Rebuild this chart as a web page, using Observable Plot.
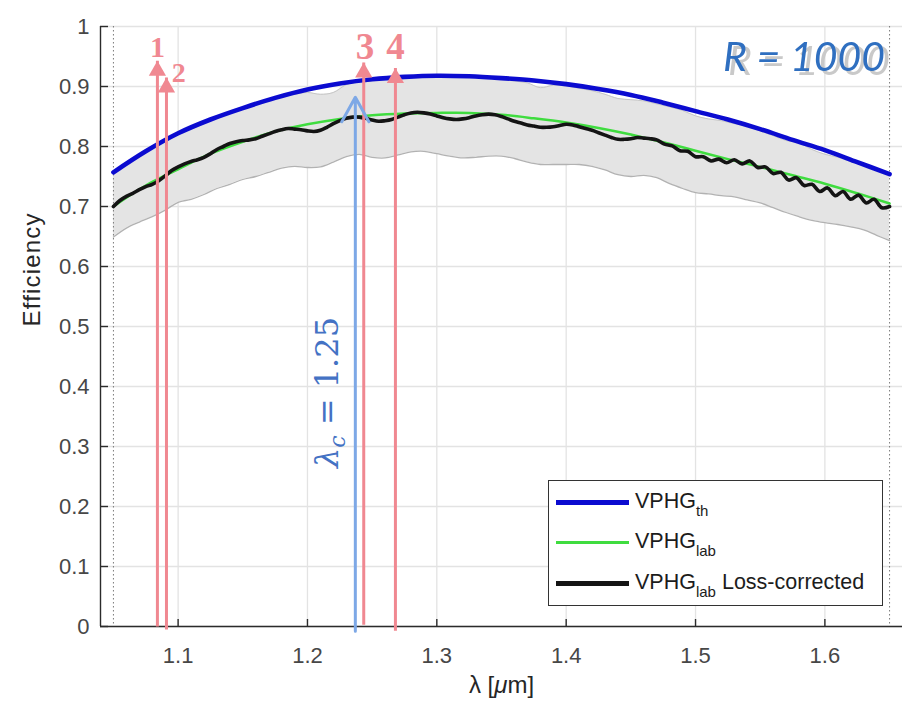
<!DOCTYPE html>
<html><head><meta charset="utf-8">
<script src="https://cdn.jsdelivr.net/npm/d3@7"></script>
<script src="https://cdn.jsdelivr.net/npm/@observablehq/plot@0.6"></script>
<style>
body{margin:0;background:#fff;}
#wrap{position:relative;width:920px;height:712px;}
#legend{position:absolute;left:548px;top:480px;width:335px;height:126px;border:1.5px solid #333;background:#fff;box-sizing:border-box;font-family:"Liberation Sans",Arial,sans-serif;font-size:21.5px;color:#1c1c1c;}
.sw{position:absolute;left:7px;width:73px;}
.lab{position:absolute;left:86px;white-space:nowrap;line-height:20px;}
.lab sub{font-size:15px;vertical-align:-8px;line-height:0;}
</style></head>
<body><div id="wrap"></div>
<script>
// ---- data ----
const xTicks = [1.1, 1.2, 1.3, 1.4, 1.5, 1.6];
const xTickLabels = ["1.1", "1.2", "1.3", "1.4", "1.5", "1.6"];
const yTicks = [0, 0.1, 0.2, 0.3, 0.4, 0.5, 0.6, 0.7, 0.8, 0.9, 1];
const yTickLabels = ["0", "0.1", "0.2", "0.3", "0.4", "0.5", "0.6", "0.7", "0.8", "0.9", "1"];
const edgeX = [1.05, 1.65];

// theoretical efficiency (blue)
const blueX = [1.05,1.075,1.1,1.125,1.15,1.175,1.2,1.225,1.25,1.275,1.3,1.325,1.35,1.375,1.4,1.425,1.45,1.475,1.5,1.525,1.55,1.575,1.6,1.625,1.65];
const blueY = [0.757,0.792,0.822,0.845,0.864,0.881,0.895,0.905,0.912,0.916,0.918,0.917,0.914,0.910,0.904,0.896,0.886,0.873,0.859,0.845,0.829,0.811,0.794,0.774,0.754];

// lab fit (green)
const greenX = [1.05,1.075,1.1,1.125,1.15,1.175,1.2,1.225,1.25,1.275,1.3,1.325,1.35,1.375,1.4,1.425,1.45,1.475,1.5,1.525,1.55,1.575,1.6,1.625,1.65];
const greenY = [0.700,0.735,0.762,0.788,0.808,0.825,0.837,0.846,0.852,0.855,0.856,0.856,0.853,0.847,0.840,0.831,0.820,0.807,0.793,0.779,0.766,0.752,0.738,0.722,0.705];

// lab loss-corrected (black)
const blackX = [1.050,1.055,1.060,1.065,1.070,1.075,1.080,1.085,1.090,1.095,
1.100,1.105,1.110,1.115,1.120,1.125,1.130,1.135,1.140,1.145,
1.150,1.155,1.160,1.165,1.170,1.175,1.180,1.185,1.190,1.195,
1.200,1.205,1.210,1.215,1.220,1.225,1.230,1.235,1.240,1.245,
1.250,1.255,1.260,1.265,1.270,1.275,1.280,1.285,1.290,1.295,
1.300,1.305,1.310,1.315,1.320,1.325,1.330,1.335,1.340,1.345,
1.350,1.355,1.360,1.365,1.370,1.375,1.380,1.385,1.390,1.395,
1.400,1.405,1.410,1.415,1.420,1.425,1.430,1.435,1.440,1.445,
1.450,1.455,1.460,1.465,
1.470,1.476,1.482,1.488,1.494,1.500,1.506,1.512,1.518,1.524,
1.530,1.536,1.542,1.548,1.554,1.560,1.566,1.572,1.578,1.584,
1.590,1.596,1.602,1.608,1.614,1.620,1.626,1.632,1.638,1.644,1.650];
const blackY = [0.700,0.710,0.717,0.722,0.728,0.733,0.737,0.743,0.751,0.760,
0.766,0.771,0.775,0.778,0.782,0.788,0.795,0.800,0.805,0.808,
0.810,0.811,0.813,0.817,0.821,0.825,0.828,0.830,0.829,0.828,
0.826,0.825,0.827,0.832,0.838,0.843,0.847,0.849,0.849,0.847,
0.844,0.842,0.843,0.845,0.849,0.853,0.856,0.857,0.856,0.854,
0.851,0.848,0.846,0.845,0.846,0.848,0.851,0.853,0.854,0.853,
0.850,0.846,0.842,0.839,0.836,0.834,0.832,0.832,0.833,0.835,
0.837,0.836,0.833,0.830,0.827,0.823,0.819,0.815,0.812,0.812,
0.813,0.815,0.814,0.813,
0.811,0.804,0.801,0.793,0.792,0.783,0.783,0.776,0.779,0.773,
0.778,0.771,0.776,0.765,0.766,0.755,0.757,0.744,0.748,0.735,
0.737,0.725,0.731,0.718,0.725,0.712,0.719,0.706,0.712,0.698,0.700];

// uncertainty band (grey)
const bandX = [1.05,1.06,1.07,1.08,1.09,1.10,1.11,1.12,1.13,1.14,
1.15,1.16,1.17,1.18,1.19,1.20,1.21,1.22,1.23,1.24,
1.25,1.26,1.27,1.28,1.29,1.30,1.31,1.32,1.33,1.34,
1.35,1.36,1.37,1.38,1.39,1.40,1.41,1.42,1.43,1.44,
1.45,1.46,1.47,1.48,1.49,1.50,1.51,1.52,1.53,1.54,
1.55,1.56,1.57,1.58,1.59,1.60,1.61,1.62,1.63,1.64,1.65];
const bandLow = [0.649,0.664,0.674,0.683,0.694,0.707,0.712,0.720,0.730,0.737,
0.745,0.750,0.757,0.764,0.767,0.765,0.766,0.774,0.783,0.787,
0.782,0.781,0.786,0.791,0.792,0.788,0.784,0.781,0.782,0.784,
0.784,0.780,0.774,0.770,0.770,0.770,0.770,0.767,0.761,0.753,
0.750,0.752,0.748,0.738,0.730,0.723,0.721,0.718,0.716,0.711,
0.706,0.698,0.690,0.683,0.677,0.673,0.670,0.666,0.661,0.652,0.643];
const bandHigh = [0.755,0.770,0.784,0.797,0.809,0.820,0.829,0.838,0.847,0.855,
0.862,0.869,0.876,0.882,0.887,0.890,0.887,0.890,0.903,0.908,
0.910,0.913,0.915,0.916,0.917,0.917,0.917,0.916,0.915,0.914,
0.912,0.909,0.906,0.898,0.902,0.901,0.897,0.893,0.887,0.880,
0.878,0.876,0.871,0.866,0.860,0.851,0.846,0.843,0.838,0.834,
0.826,0.818,0.810,0.806,0.795,0.787,0.782,0.775,0.768,0.762,0.752];

// annotation arrows
const redArrowX = [1.084, 1.091, 1.2435, 1.268];
const redArrowBase = [0, -0.005, 0.003, -0.007];
const redArrowTip = [0.943, 0.915, 0.940, 0.931];
const redLabelText = ["1", "2", "3", "4"];
const redLabelX = [1.084, 1.1005, 1.2444, 1.268];
const redLabelY = [0.966, 0.923, 0.966, 0.966];
const redLabelSize = [30, 28, 37, 37];
const blueArrowX = [1.237];
const blueArrowBase = [-0.008];
const blueArrowTip = [0.882];
const lambdaText = ["λc = 1.25"];
const lambdaX = [1.2155];
const lambdaY = [0.39];
const rText = ["R = 1000"];
const rX = [1.6465];
const rY = [0.948];

// ---- tables ----
const band = bandX.map((x, i) => ({x, lo: bandLow[i], hi: bandHigh[i]}));
const blue = blueX.map((x, i) => ({x, y: blueY[i]}));
const green = greenX.map((x, i) => ({x, y: greenY[i]}));
const black = blackX.map((x, i) => ({x, y: blackY[i]}));
const red = redArrowX.map((x, i) => ({x, y1: redArrowBase[i], y2: redArrowTip[i]}));
const redLabels = redLabelText.map((t, i) => ({t, x: redLabelX[i], y: redLabelY[i], s: redLabelSize[i]}));
const blueArr = blueArrowX.map((x, i) => ({x, y1: blueArrowBase[i], y2: blueArrowTip[i]}));
const lam = lambdaText.map((t, i) => ({t, x: lambdaX[i], y: lambdaY[i]}));
const rl = rText.map((t, i) => ({t, x: rX[i], y: rY[i]}));

const xMin = 1.04, xMax = 1.66;
const axisCol = "#2b2b2b", tickCol = "#474747";
const pink = "#f08891";

const chart = Plot.plot({
  width: 920, height: 712,
  marginLeft: 100, marginRight: 18, marginTop: 26, marginBottom: 86,
  x: {domain: [xMin, xMax]},
  y: {domain: [0, 1]},
  style: {fontFamily: "'Liberation Sans', Arial, sans-serif", background: "white"},
  marks: [
    Plot.ruleX(xTicks, {stroke: "#e3e3e3", strokeWidth: 1.3}),
    Plot.ruleY(yTicks, {stroke: "#e3e3e3", strokeWidth: 1.3}),
    Plot.areaY(band, {x: "x", y1: "lo", y2: "hi", fill: "#e4e4e4", curve: "catmull-rom"}),
    Plot.line(band, {x: "x", y: "lo", stroke: "#b2b2b2", strokeWidth: 1.3, curve: "catmull-rom"}),
    Plot.line(band, {x: "x", y: "hi", stroke: "#c6c6c6", strokeWidth: 1, curve: "catmull-rom"}),
    Plot.ruleX(edgeX, {stroke: "#7a7a7a", strokeDasharray: "1.5,2.5", strokeWidth: 1}),
    Plot.line(green, {x: "x", y: "y", stroke: "#3fdc3f", strokeWidth: 2.5, curve: "catmull-rom"}),
    Plot.line(black, {x: "x", y: "y", stroke: "#141414", strokeWidth: 3.6, curve: "catmull-rom"}),
    Plot.line(blue, {x: "x", y: "y", stroke: "#0b0bd0", strokeWidth: 4.6, curve: "catmull-rom"}),
    // axes
    Plot.ruleY([0], {stroke: axisCol, strokeWidth: 1.4}),
    Plot.ruleX([xMin], {stroke: axisCol, strokeWidth: 1.4}),
    Plot.ruleX(xTicks, {y1: 0, y2: 0, insetTop: -7, stroke: axisCol, strokeWidth: 1.4}),
    Plot.ruleY(yTicks, {x1: xMin, x2: xMin, insetRight: -8, stroke: axisCol, strokeWidth: 1.4}),
    Plot.axisX({ticks: xTicks, tickSize: 0, tickPadding: 21, fontSize: 22, fill: tickCol, label: null,
      tickFormat: d => xTickLabels[xTicks.indexOf(d)]}),
    Plot.axisY({ticks: yTicks, tickSize: 0, tickPadding: 11, fontSize: 22, fill: tickCol, label: null,
      tickFormat: d => yTickLabels[yTicks.indexOf(d)]}),
    Plot.text(["Efficiency"], {frameAnchor: "left", dx: -68, rotate: -90, fontSize: 24, fill: "#262626"}),
    Plot.text(["λ [μm]"], {frameAnchor: "bottom", dy: 66, fontSize: 24, fill: "#262626"}),
    // annotations
    Plot.link(red, {x1: "x", x2: "x", y1: "y1", y2: "y2", stroke: pink, strokeWidth: 3}),
    Plot.dot(red, {x: "x", y: "y2", symbol: "triangle", r: 6.4, fill: pink, dy: 10}),
    Plot.arrow(blueArr, {x1: "x", x2: "x", y1: "y1", y2: "y2", stroke: "#7da8e6", strokeWidth: 3, headLength: 14, headAngle: 58}),
    Plot.text(redLabels, {x: "x", y: "y", text: "t", fontSize: "s", fill: pink, fontFamily: "'Liberation Serif', serif", fontWeight: "bold"}),
    Plot.text(lam, {x: "x", y: "y", text: "t", rotate: -90, fontSize: 32, fill: "#4472c4", fontFamily: "'DejaVu Serif', serif"}),
    Plot.text(rl, {x: "x", y: "y", text: "t", textAnchor: "end", fontSize: 41, fontStyle: "italic", fontFamily: "Lato, sans-serif", fill: "#2f6fc0"})
  ]
});

const wrap = document.getElementById("wrap");
wrap.appendChild(chart);

// rich text fix-ups (subscripts / italics / shadow)
const NS = "http://www.w3.org/2000/svg";
function tspan(parent, txt, attrs) {
  const t = document.createElementNS(NS, "tspan");
  t.textContent = txt;
  for (const k in attrs) t.setAttribute(k, attrs[k]);
  parent.appendChild(t);
}
chart.querySelectorAll("text").forEach(t => {
  if (t.textContent === lambdaText[0]) {
    t.textContent = "";
    tspan(t, "λ", {"font-style": "italic"});
    tspan(t, "c", {"font-style": "italic", "font-size": "22", dy: "7"});
    tspan(t, " = 1.25", {dy: "-7"});
  } else if (t.textContent === "λ [μm]") {
    t.textContent = "";
    tspan(t, "λ [", {});
    tspan(t, "μ", {"font-style": "italic"});
    tspan(t, "m]", {});
  } else if (t.textContent === "Efficiency") {
    t.setAttribute("letter-spacing", "1.2");
  } else if (t.textContent === rText[0]) {
    t.style.filter = "drop-shadow(5px 4px 0px #c9c9c9)";
  }
});

// legend
const legendItems = [
  {color: "#0b0bd0", w: 4.5, main: "VPHG", sub: "th", rest: ""},
  {color: "#3fdc3f", w: 2.5, main: "VPHG", sub: "lab", rest: ""},
  {color: "#141414", w: 4.5, main: "VPHG", sub: "lab", rest: " Loss-corrected"}
];
const rowCenters = [21.5, 61.5, 102.5];
const lg = document.createElement("div");
lg.id = "legend";
legendItems.forEach((it, i) => {
  const sw = document.createElement("div");
  sw.className = "sw";
  sw.style.top = (rowCenters[i] - it.w / 2) + "px";
  sw.style.height = it.w + "px";
  sw.style.background = it.color;
  lg.appendChild(sw);
  const lb = document.createElement("div");
  lb.className = "lab";
  lb.style.top = (rowCenters[i] + 5 - 17) + "px";
  lb.innerHTML = it.main + "<sub>" + it.sub + "</sub>" + it.rest;
  lg.appendChild(lb);
});
wrap.appendChild(lg);
</script>
</body></html>
